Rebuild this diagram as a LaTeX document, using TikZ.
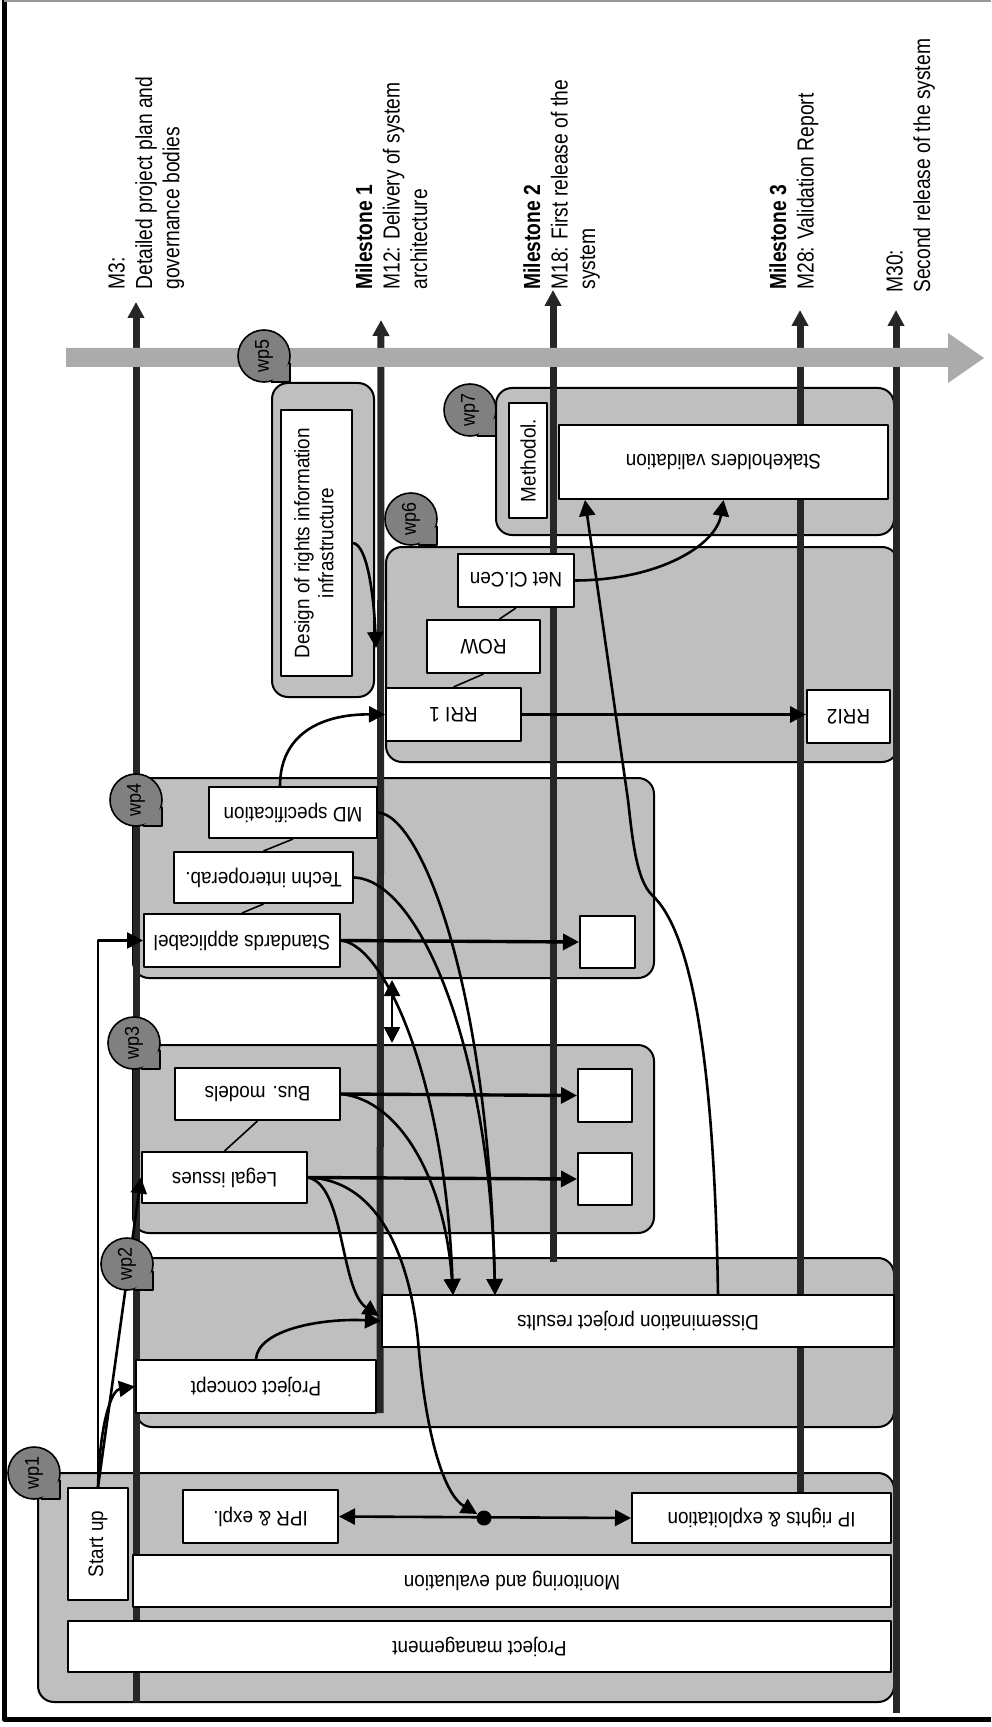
\documentclass[tikz,border=0pt]{standalone}
\usepackage{fontspec}
\setmainfont{Liberation Sans}
\newfontfamily\boxfont[FakeStretch=0.9]{Liberation Sans}
\newfontfamily\msfont[FakeStretch=0.83]{Liberation Sans}
\usetikzlibrary{arrows.meta,calc}

\tikzset{
  wpbox/.style={draw, line width=1pt, fill=black!25, rounded corners=8pt},
  tbox/.style={draw, line width=1pt, fill=white, inner sep=0pt, font={\boxfont\fontsize{10.5}{12}\selectfont}},
  wplabel/.style={circle, draw, line width=0.8pt, fill=black!50, minimum size=26pt, inner sep=0pt, font={\boxfont\fontsize{10}{12}\selectfont}},
  mline/.style={line width=3.5pt, black!85, ->},
  mslabel/.style={rotate=90, anchor=north west, inner sep=0pt, align=left, font={\msfont\fontsize{11.6}{13.7}\selectfont}},
  link/.style={line width=1.3pt, ->},
  feed/.style={line width=1.7pt, ->},
  tie/.style={line width=0.8pt},
}

\begin{document}
\begin{tikzpicture}[x=0.5pt, y=-0.5pt, line join=round, >={Triangle[width=8pt,length=8pt]}]
\useasboundingbox (0,0) rectangle (991,1727);
% frame
\draw[line width=2.5pt] (4,0) -- (4,1719) -- (991,1719);
\draw[black!40, line width=0.8pt] (4,1) -- (991,1);

% work package areas
\draw[wpbox] (38,1473) rectangle (894,1702);
\draw[wpbox] (136,1258) rectangle (894,1427);
\draw[wpbox] (133,1045) rectangle (654,1233);
\draw[wpbox] (133,778) rectangle (654,978);
\draw[wpbox] (272,383) rectangle (374,697);
\draw[wpbox] (386,547) rectangle (898,762);
\draw[wpbox] (496,388) rectangle (894,535);

% milestones
\coordinate (m3a) at (136,1703);  \coordinate (m3b) at (136,302);
\coordinate (m12a) at (380,1413); \coordinate (m12b) at (381,320);
\coordinate (m18a) at (553,1262); \coordinate (m18b) at (553,290);
\coordinate (m28a) at (800,1495); \coordinate (m28b) at (800,310);
\coordinate (m30a) at (896,1713); \coordinate (m30b) at (896,310);
\draw[mline] (m3a) -- (m3b);
\draw[mline] (m12a) -- (m12b);
\draw[mline] (m18a) -- (m18b);
\draw[mline] (m28a) -- (m28b);
\draw[mline] (m30a) -- (m30b);

% time axis
\fill[black!33] (66,348) -- (948,348) -- (948,333) -- (984,358) -- (948,383) -- (948,367) -- (66,367) -- cycle;

% wp1
\node[tbox, minimum width=411.5pt, minimum height=25.5pt] (pm) at (479.5,1646.5) {\rotatebox{180}{Project management}};
\node[tbox, minimum width=379pt, minimum height=26pt] (mon) at (512,1581) {\rotatebox{180}{Monitoring and evaluation}};
\node[tbox, minimum width=30pt, minimum height=56pt] (start) at (98,1544) {\rotatebox{90}{Start up}};
\node[tbox, minimum width=77.5pt, minimum height=26.5pt] (iprx) at (260.5,1516.5) {\rotatebox{180}{IPR \& expl.}};
\node[tbox, minimum width=129.5pt, minimum height=25pt] (iprt) at (761.5,1518) {\rotatebox{180}{IP rights \& exploitation}};
% wp2
\node[tbox, minimum width=120pt, minimum height=26.5pt] (concept) at (256,1386.5) {\rotatebox{180}{Project concept}};
\node[tbox, minimum width=256pt, minimum height=26pt] (dissem) at (638,1321) {\rotatebox{180}{Dissemination project results}};
% wp3
\node[tbox, minimum width=82.5pt, minimum height=25.5pt] (legal) at (224.5,1177.5) {\rotatebox{180}{Legal issues}};
\node[tbox, minimum width=82.5pt, minimum height=26pt] (bus) at (257.5,1094) {\rotatebox{180}{Bus. models}};
\node[tbox, minimum width=27pt, minimum height=26pt] (sqlegal) at (605,1179) {};
\node[tbox, minimum width=27pt, minimum height=26.5pt] (sqbus) at (605,1095.5) {};
% wp4
\node[tbox, minimum width=98pt, minimum height=26.5pt] (stand) at (242,940.5) {\rotatebox{180}{Standards applicabel}};
\node[tbox, minimum width=89.5pt, minimum height=25.5pt] (techn) at (263.5,877.5) {\rotatebox{180}{Techn interoperab.}};
\node[tbox, minimum width=84pt, minimum height=25.5pt] (mdspec) at (293,812.5) {\rotatebox{180}{MD specification}};
\node[tbox, minimum width=27.5pt, minimum height=26pt] (sqstand) at (607.5,942) {};
% wp5
\node[tbox, minimum width=35.5pt, minimum height=133pt] (design) at (316.5,543) {\rotatebox{90}{\begin{tabular}{@{}c@{}}Design of rights information\\infrastructure\end{tabular}}};
% wp6
\node[tbox, minimum width=67.5pt, minimum height=26.5pt] (rri1) at (453.5,714.5) {\rotatebox{180}{RRI 1}};
\node[tbox, minimum width=56.5pt, minimum height=26.5pt] (row) at (483.5,646.5) {\rotatebox{180}{ROW}};
\node[tbox, minimum width=58pt, minimum height=26.5pt] (netcl) at (516,580.5) {\rotatebox{180}{Net Cl.Cen}};
\node[tbox, minimum width=41.5pt, minimum height=26.5pt] (rri2) at (848.5,716.5) {\rotatebox{180}{RRI2}};
% wp7
\node[tbox, minimum width=19pt, minimum height=57.5pt] (methodol) at (528,460.5) {\rotatebox{90}{Methodol.}};
\node[tbox, minimum width=164.5pt, minimum height=37pt] (stake) at (723.5,462) {\rotatebox{180}{Stakeholders validation}};

% links inside the packages
\draw[tie] (netcl.south) -- ($(row.north)+(16,0)$);
\draw[tie] (row.south) -- (rri1.north);
\draw[tie] (mdspec.south) -- (techn.north);
\draw[tie] (techn.south) -- (stand.north);
\draw[tie] (bus.south) -- (legal.north);
\draw[feed] (stand.east) -- (sqstand.west);
\draw[feed] (bus.east) -- (sqbus.west);
\draw[feed] (legal.east) -- (sqlegal.west);
\draw[feed] (rri1.east) -- (rri1.east -| rri2.west);

% start up
\draw[link] (start.north) |- (stand.west);
\draw[link] (start.north) -- (legal.west);
\draw[link] (start.north) .. controls (100,1420) and (112,1390) .. (concept.west);

% flows to dissemination
\coordinate (dr1) at (453,1295);
\coordinate (dr2) at (495,1295);
\draw[link] (concept.north) .. controls (258,1330) and (320,1318) .. (dissem.west);
\draw[link] (legal.east) .. controls (345,1185) and (340,1290) .. ($(dissem.west)+(-2,-5)$);
\draw[link] (bus.east) .. controls (400,1100) and (445,1180) .. (dr1);
\draw[link] (stand.east) .. controls (385,945) and (445,1080) .. (dr1);
\draw[link] (techn.east) .. controls (420,880) and (490,1050) .. (dr2);
\draw[link] (mdspec.east) .. controls (420,815) and (488,980) .. (dr2);

% IPR
\node[circle, fill, inner sep=0pt, minimum size=7.5pt] (jn) at (484,1518) {};
\draw[link, <->] (iprx.east) -- (iprt.west);
\draw[link] (legal.east) .. controls (380,1180) and (410,1260) .. (418,1340) .. controls (426,1440) and (445,1495) .. (jn);

% wp4 <-> wp3
\coordinate (wp4b) at (392,980);
\coordinate (wp3t) at (392,1043);
\draw[link, <->] (wp4b) -- (wp3t);

% towards the system
\coordinate (dsend) at (376,648);
\draw[link] ($(mdspec.north)+(-13,0)$) .. controls (280,735) and (320,714) .. (rri1.west);
\draw[link] (design.east) .. controls (368,545) and (374,600) .. (dsend);
\draw[link] (netcl.east) .. controls (660,580) and (716,545) .. (stake.south);
\draw[link] ($(dissem.north)+(80,0)$) .. controls (714,1050) and (690,930) .. (652,895) .. controls (636,880) and (632,835) .. (628,800) -- ($(stake.south west)+(27,0)$);

% work package tags
\node[wplabel] (wp1) at (34,1473) {\rotatebox{90}{wp1}};
\node[wplabel] (wp2) at (127,1264) {\rotatebox{90}{wp2}};
\node[wplabel] (wp3) at (134,1043) {\rotatebox{90}{wp3}};
\node[wplabel] (wp4) at (136,800) {\rotatebox{90}{wp4}};
\node[wplabel] (wp5) at (264,356) {\rotatebox{90}{wp5}};
\node[wplabel] (wp6) at (411,519) {\rotatebox{90}{wp6}};
\node[wplabel] (wp7) at (470,410) {\rotatebox{90}{wp7}};
\foreach \n in {1,...,7} {
  \fill[black!50] (wp\n.-15) |- (wp\n.-75);
  \draw[line width=0.8pt] (wp\n.-15) |- (wp\n.-75);
}

% milestone texts
\node[mslabel] (lab3) at (108,290) {M3:\\Detailed project plan and\\governance bodies};
\node[mslabel] (lab12) at (355,290) {\textbf{Milestone 1}\\M12: Delivery of system\\architecture};
\node[mslabel] (lab18) at (523,290) {\textbf{Milestone 2}\\M18: First release of the\\system};
\node[mslabel] (lab28) at (769,290) {\textbf{Milestone 3}\\M28: Validation Report};
\node[mslabel] (lab30) at (886,293) {M30:\\Second release of the system};
\end{tikzpicture}
\end{document}
